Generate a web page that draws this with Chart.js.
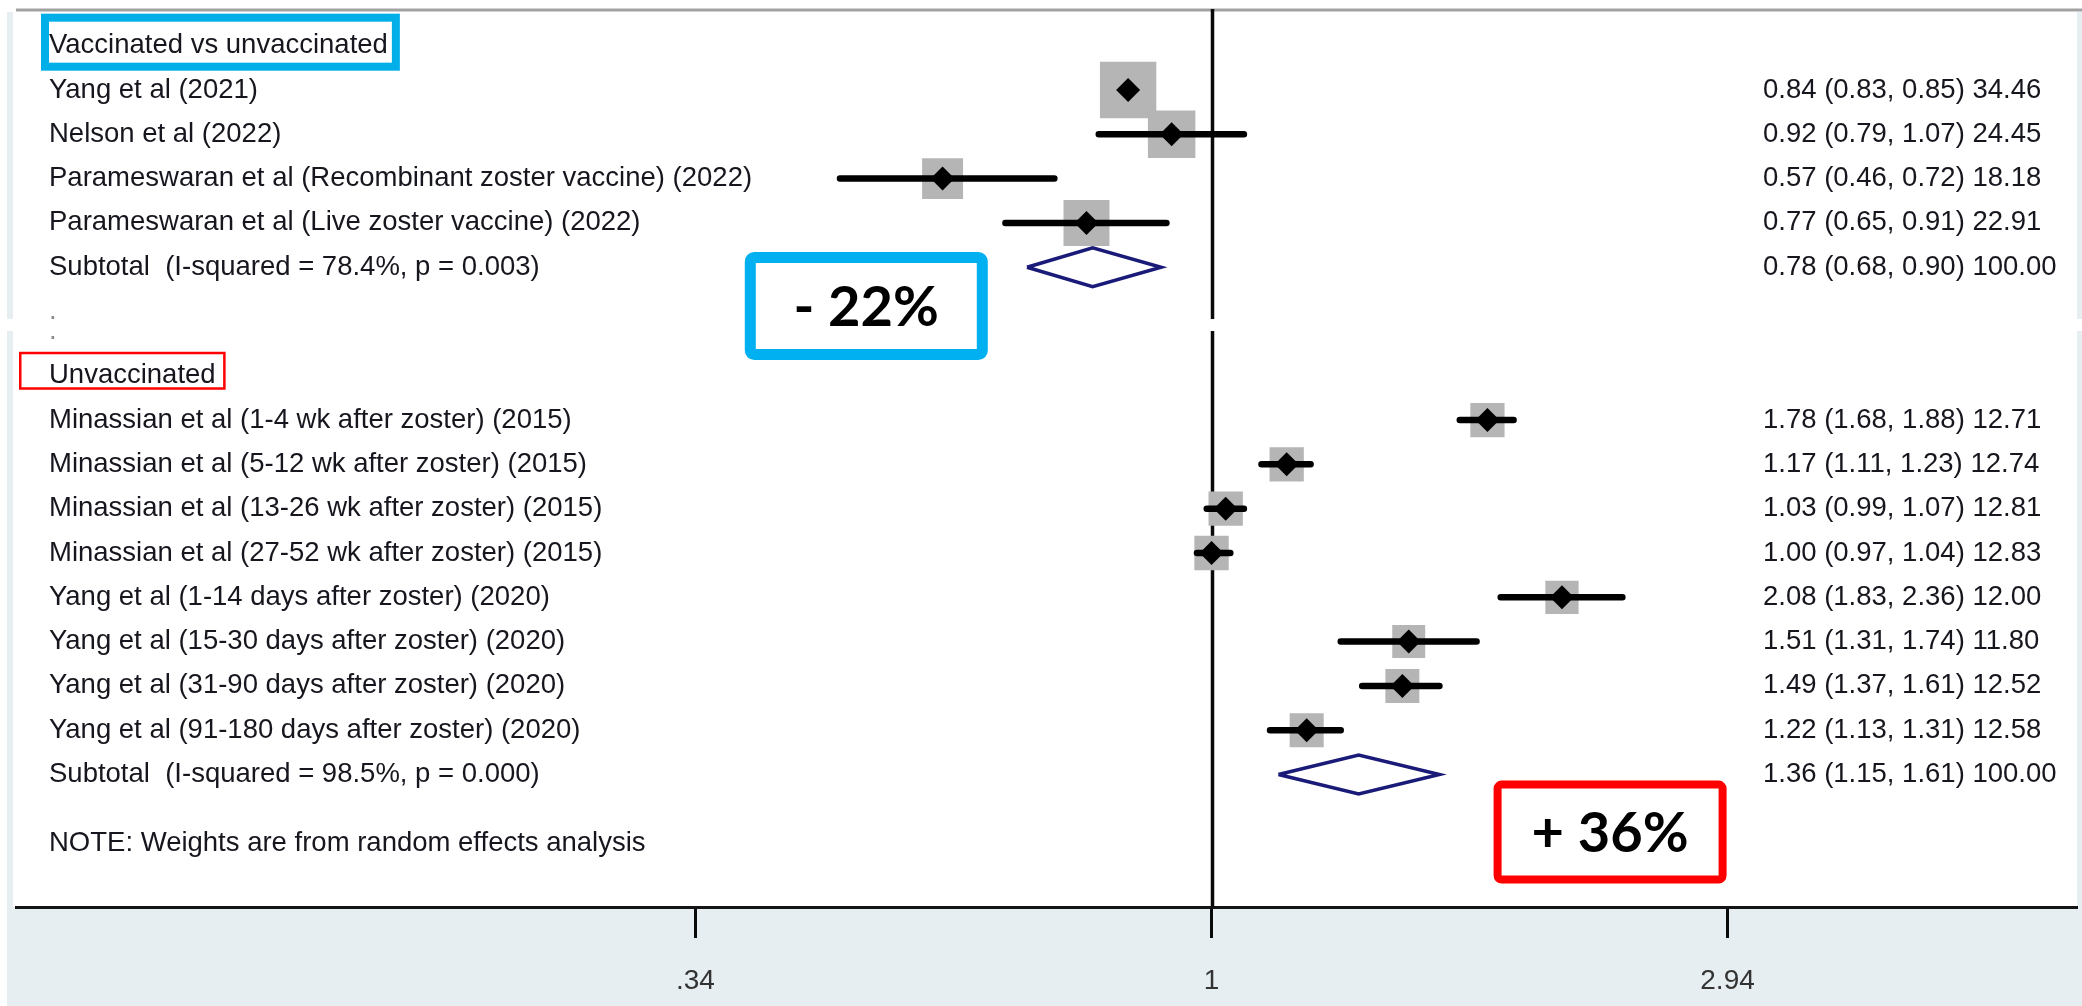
<!DOCTYPE html>
<html>
<head>
<meta charset="utf-8">
<title>Forest plot</title>
<script src="https://cdn.jsdelivr.net/npm/chart.js@4.4.1/dist/chart.umd.min.js"></script>
<style>
  html, body { margin: 0; padding: 0; background: #ffffff; }
  #wrap { width: 2082px; height: 1006px; position: relative; }
</style>
</head>
<body>
<div id="wrap"><canvas id="forest" width="2082" height="1006"></canvas></div>
<script>
// ---- Subgroup 1: vaccinated vs unvaccinated ----
const vaccHeader = 'Vaccinated vs unvaccinated';
const vaccStudies = [
  'Yang et al (2021)',
  'Nelson et al (2022)',
  'Parameswaran et al (Recombinant zoster vaccine) (2022)',
  'Parameswaran et al (Live zoster vaccine) (2022)'
];
const vaccEst = [0.84, 0.92, 0.57, 0.77];
const vaccLow = [0.83, 0.79, 0.46, 0.65];
const vaccHigh = [0.85, 1.07, 0.72, 0.91];
const vaccWeight = [34.46, 24.45, 18.18, 22.91];

// ---- Subgroup 2: unvaccinated ----
const unvaccHeader = 'Unvaccinated';
const unvaccStudies = [
  'Minassian et al (1-4 wk after zoster) (2015)',
  'Minassian et al (5-12 wk after zoster) (2015)',
  'Minassian et al (13-26 wk after zoster) (2015)',
  'Minassian et al (27-52 wk after zoster) (2015)',
  'Yang et al (1-14 days after zoster) (2020)',
  'Yang et al (15-30 days after zoster) (2020)',
  'Yang et al (31-90 days after zoster) (2020)',
  'Yang et al (91-180 days after zoster) (2020)'
];
const unvaccEst = [1.78, 1.17, 1.03, 1.00, 2.08, 1.51, 1.49, 1.22];
const unvaccLow = [1.68, 1.11, 0.99, 0.97, 1.83, 1.31, 1.37, 1.13];
const unvaccHigh = [1.88, 1.23, 1.07, 1.04, 2.36, 1.74, 1.61, 1.31];
const unvaccWeight = [12.71, 12.74, 12.81, 12.83, 12.00, 11.80, 12.52, 12.58];

// ---- Pooled (random effects) subtotals ----
const subtotalLabels = [
  'Subtotal  (I-squared = 78.4%, p = 0.003)',
  'Subtotal  (I-squared = 98.5%, p = 0.000)'
];
const subtotalEst = [0.78, 1.36];
const subtotalLow = [0.68, 1.15];
const subtotalHigh = [0.90, 1.61];
const subtotalWeight = [100.00, 100.00];

// ---- Axis ----
const tickValues = [0.34, 1, 2.94];
const tickLabels = ['.34', '1', '2.94'];
const noteText = 'NOTE: Weights are from random effects analysis';

// ---------------------------------------------------------------
const TEXT_FONT = '"Liberation Sans", Arial, Helvetica, sans-serif';
const BADGE_FONT = 'Lato, "Open Sans", "Liberation Sans", sans-serif';
const TEXT_SIZE = 27.5;
const TEXT_COLOR = '#16161e';
const PANEL = '#e7eef1';
const LABEL_X = 49;
const VALUE_X = 1763;
const X_MIN = 0.0822, X_MAX = 6.09;
const Y_MIN = -0.76, Y_MAX = 19.44;
const BOX_SCALE = 9.6;          // square side = BOX_SCALE * sqrt(weight)
const DIAMOND_HALF = 0.44;      // half height of pooled diamond, in rows

const groups = [
  { header: vaccHeader, studies: vaccStudies, est: vaccEst, low: vaccLow, high: vaccHigh,
    weight: vaccWeight, start: 0, spacer: 'after',
    frame: { color: '#00aee8', width: 8, left: 8, right: 12, top: 32, bottom: 25 } },
  { header: unvaccHeader, studies: unvaccStudies, est: unvaccEst, low: unvaccLow, high: unvaccHigh,
    weight: unvaccWeight, start: 7.45, spacer: 'before',
    frame: { color: '#ff0000', width: 2.5, left: 30, right: 10, top: 24, bottom: 14 } }
];
const noteRow = 18;
const seamRows = [6.17, 6.44];

const fmt = v => v.toFixed(2);
const pctLabel = v => {
  const p = Math.round((v - 1) * 100);
  return (p < 0 ? '- ' : '+ ') + Math.abs(p) + '%';
};

// pooled-effect badges, anchored in data space near each subtotal diamond
const badges = [
  { sub: 0, at: [0.486, 5.875], w: 243, h: 108, color: '#00b0f0', line: 11 },
  { sub: 1, at: [2.30, 17.75], w: 233, h: 103, color: '#ff0000', line: 8 }
];

// text rows and marker data
const textRows = [];
const markerPts = [], boxPts = [], ciPts = [], diamondPts = [];
groups.forEach((g, gi) => {
  if (g.spacer === 'before') textRows.push({ row: g.start - 1, text: '.', dot: true });
  textRows.push({ row: g.start, text: g.header, frame: g.frame });
  g.studies.forEach((name, i) => {
    const r = g.start + 1 + i;
    textRows.push({ row: r, text: name,
      value: `${fmt(g.est[i])} (${fmt(g.low[i])}, ${fmt(g.high[i])}) ${fmt(g.weight[i])}` });
    markerPts.push({ x: g.est[i], y: r });
    boxPts.push({ x: g.est[i], y: r, w: g.weight[i] });
    ciPts.push({ x: g.low[i], y: r }, { x: g.high[i], y: r }, { x: g.high[i], y: null });
  });
  const sr = g.start + 1 + g.studies.length;
  textRows.push({ row: sr, text: subtotalLabels[gi],
    value: `${fmt(subtotalEst[gi])} (${fmt(subtotalLow[gi])}, ${fmt(subtotalHigh[gi])}) ${fmt(subtotalWeight[gi])}` });
  diamondPts.push(
    { x: subtotalLow[gi], y: sr },
    { x: subtotalEst[gi], y: sr - DIAMOND_HALF },
    { x: subtotalHigh[gi], y: sr },
    { x: subtotalEst[gi], y: sr + DIAMOND_HALF },
    { x: subtotalLow[gi], y: sr },
    { x: subtotalLow[gi], y: null }
  );
  if (g.spacer === 'after') textRows.push({ row: sr + 1, text: '.', dot: true });
});
textRows.push({ row: noteRow, text: noteText });

const forestPlugin = {
  id: 'forestLayout',
  beforeDraw(chart) {
    const { ctx, chartArea: a, width, height } = chart;
    ctx.save();
    ctx.fillStyle = '#ffffff';
    ctx.fillRect(0, 0, width, height);
    ctx.fillStyle = PANEL;
    ctx.fillRect(7, a.bottom, width - 7, height - a.bottom);
    ctx.fillRect(7, a.top, 6, a.bottom - a.top);
    ctx.fillRect(width - 5, a.top, 5, a.bottom - a.top);
    ctx.strokeStyle = '#a2a2a2';
    ctx.lineWidth = 3;
    ctx.beginPath();
    ctx.moveTo(a.left, a.top - 2);
    ctx.lineTo(width, a.top - 2);
    ctx.stroke();
    ctx.restore();
  },
  beforeDatasetsDraw(chart) {
    const { ctx, chartArea: a, scales: { x, y }, width } = chart;
    ctx.save();
    const nx = Math.round(x.getPixelForValue(1)) + 0.5;
    ctx.strokeStyle = '#0a0a0a';
    ctx.lineWidth = 3.5;
    ctx.beginPath();
    ctx.moveTo(nx, a.top - 3);
    ctx.lineTo(nx, a.bottom);
    ctx.stroke();
    // seam between the two panels
    const s0 = y.getPixelForValue(seamRows[0]), s1 = y.getPixelForValue(seamRows[1]);
    ctx.fillStyle = '#ffffff';
    ctx.fillRect(0, s0, width, s1 - s0);
    ctx.restore();
  },
  afterDatasetsDraw(chart) {
    const { ctx, scales: { x, y } } = chart;
    ctx.save();
    ctx.font = `${TEXT_SIZE}px ${TEXT_FONT}`;
    ctx.textBaseline = 'middle';
    ctx.textAlign = 'left';
    textRows.forEach(t => {
      const py = y.getPixelForValue(t.row);
      ctx.fillStyle = t.dot ? '#8a8a90' : TEXT_COLOR;
      ctx.fillText(t.text, LABEL_X, py);
      if (t.value) {
        ctx.fillStyle = TEXT_COLOR;
        ctx.fillText(t.value, VALUE_X, py);
      }
      if (t.frame) {
        const f = t.frame;
        const tw = ctx.measureText(t.text).width;
        const x0 = LABEL_X - f.left, x1 = LABEL_X + tw + f.right;
        const y0 = py - f.top, y1 = py + f.bottom;
        ctx.strokeStyle = f.color;
        ctx.lineWidth = f.width;
        ctx.strokeRect(x0 + f.width / 2, y0 + f.width / 2, x1 - x0 - f.width, y1 - y0 - f.width);
      }
    });
    // pooled-effect badges
    badges.forEach(b => {
      const cx = x.getPixelForValue(b.at[0]);
      const cy = y.getPixelForValue(b.at[1]);
      const x0 = cx - b.w / 2 + b.line / 2, y0 = cy - b.h / 2 + b.line / 2;
      ctx.fillStyle = '#ffffff';
      ctx.strokeStyle = b.color;
      ctx.lineWidth = b.line;
      ctx.beginPath();
      ctx.roundRect(x0, y0, b.w - b.line, b.h - b.line, 4);
      ctx.fill();
      ctx.stroke();
      ctx.fillStyle = '#000000';
      ctx.font = `bold 56px ${BADGE_FONT}`;
      ctx.textAlign = 'center';
      ctx.textBaseline = 'middle';
      ctx.fillText(pctLabel(subtotalEst[b.sub]), cx, cy + 2);
    });
    ctx.restore();
  }
};

new Chart(document.getElementById('forest'), {
  type: 'scatter',
  data: {
    datasets: [
      { // point estimates
        type: 'scatter', data: markerPts, order: 0,
        pointStyle: 'rectRot', pointRadius: 12, pointHoverRadius: 12,
        pointBackgroundColor: '#000000', pointBorderWidth: 0
      },
      { // pooled estimates
        type: 'line', data: diamondPts, order: 0,
        borderColor: '#1a1a78', borderWidth: 3.5, borderJoinStyle: 'miter',
        pointRadius: 0, fill: false, tension: 0, spanGaps: false
      },
      { // confidence intervals
        type: 'line', data: ciPts, order: 1,
        borderColor: '#000000', borderWidth: 6.5, borderCapStyle: 'round',
        pointRadius: 0, fill: false, tension: 0, spanGaps: false
      },
      { // study weights
        type: 'scatter', data: boxPts, order: 2,
        pointStyle: 'rect',
        pointRadius: c => BOX_SCALE * Math.sqrt(c.raw.w) / Math.SQRT2,
        pointHoverRadius: c => BOX_SCALE * Math.sqrt(c.raw.w) / Math.SQRT2,
        pointBackgroundColor: '#b5b5b5', pointBorderWidth: 0
      }
    ]
  },
  options: {
    responsive: false,
    animation: false,
    devicePixelRatio: 1,
    events: [],
    layout: { autoPadding: false, padding: { left: 16, right: 6, top: 12, bottom: 0 } },
    plugins: { legend: { display: false }, tooltip: { enabled: false } },
    scales: {
      x: {
        type: 'logarithmic', position: 'bottom', min: X_MIN, max: X_MAX,
        afterBuildTicks: s => { s.ticks = tickValues.map(v => ({ value: v })); },
        afterFit: s => { s.height = 99; },
        ticks: {
          autoSkip: false, maxRotation: 0, padding: 26, color: '#333333',
          font: { family: TEXT_FONT, size: 28 },
          callback: (v, i) => tickLabels[i]
        },
        grid: { drawOnChartArea: false, drawTicks: true, tickLength: 31, color: '#0a0a0a', lineWidth: 3 },
        border: { display: true, color: '#141414', width: 3 }
      },
      y: { type: 'linear', reverse: true, min: Y_MIN, max: Y_MAX, display: false }
    }
  },
  plugins: [forestPlugin]
});
</script>
</body>
</html>
